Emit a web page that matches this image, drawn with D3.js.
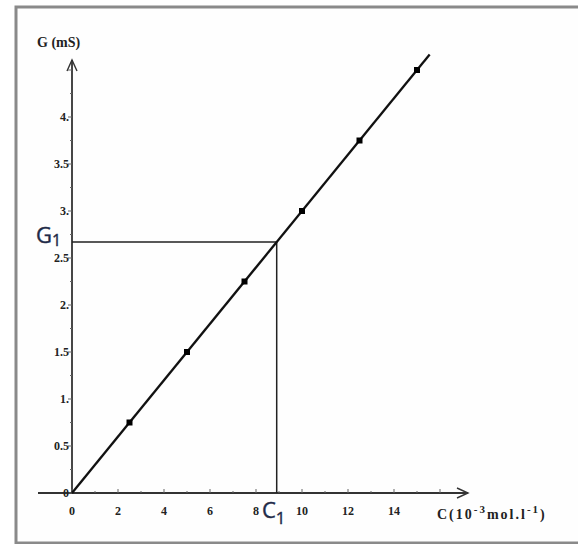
<!DOCTYPE html>
<html>
<head>
<meta charset="utf-8">
<title>G = f(C)</title>
<script src="https://cdn.jsdelivr.net/npm/d3@7"></script>
<style>
  body { margin: 0; background: #fff; }
  .tick-lbl { font-family: "Liberation Serif", "DejaVu Serif", serif; font-weight: bold; font-size: 12px; fill: #222; }
  .ax-title { font-family: "Liberation Serif", "DejaVu Serif", serif; font-weight: bold; font-size: 14px; fill: #222; }
  .mark-lbl { font-family: "Open Sans", "Noto Sans", sans-serif; font-size: 22px; fill: #1e2a48; stroke: #1e2a48; stroke-width: 0.4; }
</style>
</head>
<body>
<svg id="chart" width="578" height="544"></svg>
<script>
// measured points C (10^-3 mol/L) -> G (mS)
var concentrations = [0, 2.5, 5, 7.5, 10, 12.5, 15];
var conductances = [0, 0.75, 1.5, 2.25, 3, 3.75, 4.5];
var xTicks = [0, 2, 4, 6, 8, 10, 12, 14];
var yTicks = [0, 0.5, 1, 1.5, 2, 2.5, 3, 3.5, 4];
var yTickLabels = ["0", "0.5", "1.", "1.5", "2.", "2.5", "3.", "3.5", "4."];
var lineEnd = [15.55, 4.665];   // fitted line drawn a bit past last point
var reading = { C1: 8.9, G1: 2.67 };

var svg = d3.select("#chart");

// frame
svg.append("rect")
  .attr("x", 16).attr("y", 7).attr("width", 570).attr("height", 536)
  .attr("fill", "#fefefe").attr("stroke", "#8a8a8a").attr("stroke-width", 3);

var x = d3.scaleLinear().domain([0, 10]).range([72, 302]);
var y = d3.scaleLinear().domain([0, 4]).range([493, 117]);

var ax = svg.append("g").attr("stroke", "#333").attr("fill", "none");

// x axis with arrow
ax.append("line").attr("x1", 38).attr("x2", 468)
  .attr("y1", y(0)).attr("y2", y(0)).attr("stroke-width", 1.8);
ax.append("path")
  .attr("d", "M457," + (y(0) - 5) + "L468," + y(0) + "L457," + (y(0) + 5))
  .attr("stroke-width", 1.4);

// y axis with arrow
ax.append("line").attr("x1", x(0)).attr("x2", x(0))
  .attr("y1", y(0)).attr("y2", 60).attr("stroke-width", 1.8);
ax.append("path")
  .attr("d", "M" + (x(0) - 5) + ",71L" + x(0) + ",60L" + (x(0) + 5) + ",71")
  .attr("stroke-width", 1.4);

// ticks
d3.range(0, 17, 1).forEach(function (v) {
  var major = v % 2 === 0;
  ax.append("line").attr("x1", x(v)).attr("x2", x(v))
    .attr("y1", y(0)).attr("y2", y(0) - (major ? 4 : 2))
    .attr("stroke-width", 1).attr("stroke", "#666");
});
d3.range(0, 4.61, 0.25).forEach(function (v) {
  var major = Math.abs(v * 2 - Math.round(v * 2)) < 1e-6;
  ax.append("line").attr("y1", y(v)).attr("y2", y(v))
    .attr("x1", x(0)).attr("x2", x(0) - (major ? 4 : 2))
    .attr("stroke-width", 1).attr("stroke", "#666");
});

// tick labels
svg.selectAll(".xl").data(xTicks).enter().append("text")
  .attr("class", "tick-lbl")
  .attr("x", function (d) { return x(d); })
  .attr("y", y(0) + 22)
  .attr("text-anchor", "middle")
  .text(function (d) { return d; });

svg.selectAll(".yl").data(yTicks).enter().append("text")
  .attr("class", "tick-lbl")
  .attr("x", x(0) - 3)
  .attr("y", function (d) { return y(d) + 4; })
  .attr("text-anchor", "end")
  .text(function (d, i) { return yTickLabels[i]; });

// axis titles
svg.append("text").attr("class", "ax-title")
  .attr("x", 37).attr("y", 47).text("G (mS)");

var xt = svg.append("text").attr("class", "ax-title")
  .attr("x", 437).attr("y", 519)
  .attr("font-size", "15px")
  .attr("letter-spacing", "2px");
xt.append("tspan").text("C(10");
xt.append("tspan").attr("dy", -6).attr("font-size", "11px").text("-3");
xt.append("tspan").attr("dy", 6).text("mol.l");
xt.append("tspan").attr("dy", -6).attr("font-size", "11px").text("-1");
xt.append("tspan").attr("dy", 6).text(")");

// reading lines
svg.append("path")
  .attr("d", "M" + x(0) + "," + y(reading.G1) + "H" + x(reading.C1) + "V" + y(0))
  .attr("fill", "none").attr("stroke", "#222").attr("stroke-width", 1.5);

// fitted line
svg.append("line")
  .attr("x1", x(0)).attr("y1", y(0))
  .attr("x2", x(lineEnd[0])).attr("y2", y(lineEnd[1]))
  .attr("stroke", "#111").attr("stroke-width", 2.3);

// points
svg.selectAll(".pt").data(concentrations.slice(1)).enter().append("rect")
  .attr("x", function (d) { return x(d) - 3; })
  .attr("y", function (d, i) { return y(conductances[i + 1]) - 3; })
  .attr("width", 6).attr("height", 6)
  .attr("fill", "#000");

// G1 and C1 labels
var g1 = svg.append("text").attr("class", "mark-lbl")
  .attr("x", 36).attr("y", y(reading.G1) + 1);
g1.append("tspan").text("G");
g1.append("tspan").attr("dy", 3).attr("font-size", "16px").text("1");

var c1 = svg.append("text").attr("class", "mark-lbl")
  .attr("x", 262).attr("y", 518);
c1.append("tspan").text("C");
c1.append("tspan").attr("dy", 6).attr("font-size", "17px").text("1");
</script>
</body>
</html>
